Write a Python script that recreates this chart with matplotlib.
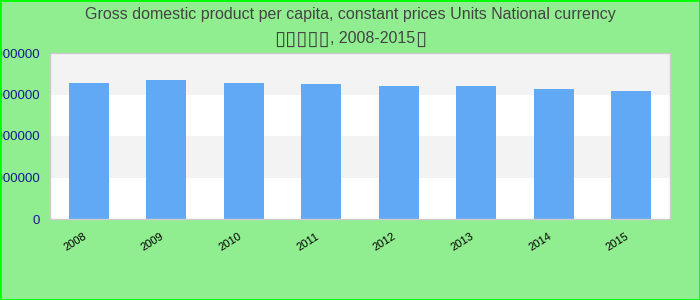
import matplotlib
matplotlib.use("Agg")
import matplotlib.pyplot as plt
from matplotlib.patches import Rectangle
import matplotlib.transforms as mtransforms

years = ["2008", "2009", "2010", "2011", "2012", "2013", "2014", "2015"]
values = [3277000, 3350000, 3277000, 3253000, 3205000, 3205000, 3133000, 3084000]
yticks = [0, 1000000, 2000000, 3000000, 4000000]
title_line1 = "Gross domestic product per capita, constant prices Units National currency"
title_line2_parts = ["\u25af\u25af\u25af\u25af\u25af", ", 2008-2015", "\u25af"]

plt.rcParams['font.family'] = ['Liberation Sans', 'DejaVu Sans']

fig = plt.figure(figsize=(7, 3), dpi=100)
fig.patch.set_facecolor('#90EE90')
fig.patches.append(Rectangle((0, 0), 1, 1, transform=fig.transFigure, fill=False,
                             edgecolor='#00ff00', linewidth=2, zorder=10))

ax = fig.add_axes([50/700, 1 - 219/300, 620/700, 166/300])
ax.set_facecolor('white')
ax.set_xlim(-0.5, len(years) - 0.5)
ax.set_ylim(0, yticks[-1])

# alternating bands
for i in range(len(yticks) - 1):
    if i % 2 == 1:
        ax.axhspan(yticks[i], yticks[i + 1], color='#f3f3f3', zorder=0, lw=0)

x = list(range(len(years)))
ax.bar(x, values, width=0.52, color='#62a9f5', zorder=2)

ax.set_yticks(yticks)
ax.set_yticklabels([str(v) for v in yticks], color='#1a1a8c', fontsize=9.5)
ax.set_xticks(x)
ax.set_xticklabels(years, rotation=32, ha='right', rotation_mode='anchor', fontsize=8, color='black')
ax.tick_params(axis='both', length=0)
ax.tick_params(axis='y', pad=7)
ax.tick_params(axis='x', pad=9)
offset = mtransforms.ScaledTranslation(-6/100, 0, fig.dpi_scale_trans)
for lab in ax.get_xticklabels():
    lab.set_transform(lab.get_transform() + offset)

for s in ax.spines.values():
    s.set_color('#cccccc')
    s.set_linewidth(1)

fig.text(0.5, 1 - 14/300, title_line1, ha='center', va='center', fontsize=11.5, color='#444444')

# second title line assembled from pieces (boxes drawn in DejaVu Sans)
renderer = fig.canvas.get_renderer()
fams = [['DejaVu Sans'], ['Liberation Sans'], ['DejaVu Sans']]
sizes = [14.5, 11.5, 14.5]
texts = []
for part, fam, sz in zip(title_line2_parts, fams, sizes):
    t = fig.text(0, 1 - 37/300, part, ha='left', va='center_baseline', fontsize=sz,
                 color='#444444', family=fam)
    texts.append(t)
widths = [t.get_window_extent(renderer).width for t in texts]
total = sum(widths)
xpos = 350 - total / 2
for t, w in zip(texts, widths):
    t.set_x(xpos / 700)
    xpos += w

fig.savefig('out.png', dpi=100, facecolor=fig.get_facecolor())
